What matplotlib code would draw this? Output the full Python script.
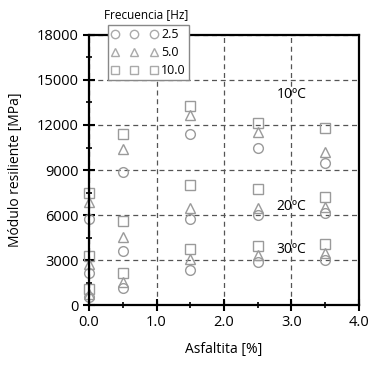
import matplotlib
matplotlib.use('Agg')
import matplotlib.pyplot as plt
from matplotlib.ticker import MultipleLocator

plt.rcParams['font.family'] = ['Open Sans', 'DejaVu Sans']

# asphaltite content [%]
asfaltita = [0.0, 0.5, 1.5, 2.5, 3.5]

# modulus [MPa] per temperature and frequency
f25_10 = [5710, 8890, 11400, 10440, 9490]
f50_10 = [6890, 10400, 12670, 11560, 10220]
f100_10 = [7490, 11380, 13270, 12110, 11780]

f25_20 = [2110, 3620, 5710, 6000, 6160]
f50_20 = [2730, 4560, 6440, 6440, 6510]
f100_20 = [3290, 5620, 8000, 7710, 7220]

f25_30 = [510, 1110, 2330, 2840, 3000]
f50_30 = [750, 1560, 3050, 3330, 3490]
f100_30 = [1070, 2160, 3730, 3960, 4070]

temp_labels = ['10ºC', '20ºC', '30ºC']
temp_pos = [(2.78, 14000), (2.78, 6600), (2.78, 3700)]

gray = '#9a9a9a'
fig = plt.figure(figsize=(3.79, 3.68), dpi=100)
ax = fig.add_axes([0.235, 0.171, 0.712, 0.734])

style = dict(linestyle='none', markerfacecolor='none', markeredgecolor=gray,
             markersize=7, markeredgewidth=1.0, clip_on=False)
for ys in (f25_10, f25_20, f25_30):
    ax.plot(asfaltita, ys, marker='o', **style)
for ys in (f50_10, f50_20, f50_30):
    ax.plot(asfaltita, ys, marker='^', **style)
for ys in (f100_10, f100_20, f100_30):
    ax.plot(asfaltita, ys, marker='s', **style)

lstyle = dict(style, markersize=6, markeredgecolor='#aaaaaa')
h1, = ax.plot([], [], marker='o', **lstyle)
h2, = ax.plot([], [], marker='^', **lstyle)
h3, = ax.plot([], [], marker='s', **lstyle)
leg = fig.legend([h1, h2, h3], ['2.5', '5.0', '10.0'], numpoints=3,
                 loc='upper left', bbox_to_anchor=(0.285, 0.932), frameon=True,
                 fancybox=False, edgecolor='#888888', handlelength=3.7,
                 handletextpad=0.3, borderpad=0.25, labelspacing=0.4,
                 fontsize=9, borderaxespad=0, framealpha=1)
leg.get_frame().set_linewidth(1.0)
fig.text(0.385, 0.96, 'Frecuencia [Hz]', fontsize=8.5, ha='center', va='center')

for t, (x, y) in zip(temp_labels, temp_pos):
    ax.text(x, y, t, fontsize=10, ha='left', va='center')

ax.set_xlim(0, 4)
ax.set_ylim(0, 18000)
ax.xaxis.set_major_locator(MultipleLocator(1))
ax.xaxis.set_minor_locator(MultipleLocator(0.5))
ax.yaxis.set_major_locator(MultipleLocator(3000))
ax.yaxis.set_minor_locator(MultipleLocator(1500))
ax.set_xticklabels([f'{v:.1f}' for v in ax.get_xticks()])
ax.tick_params(which='major', direction='inout', length=8, width=1.5, labelsize=10.5)
ax.tick_params(which='minor', direction='inout', length=5, width=1.2)
ax.tick_params(top=False, right=False)
ax.grid(True, which='major', linestyle=(0, (4, 3)), color='#555555', linewidth=0.9)
for s in ax.spines.values():
    s.set_linewidth(1.6)

ax.set_xlabel('Asfaltita [%]', fontsize=10, labelpad=8)
ax.set_ylabel('Módulo resiliente [MPa]', fontsize=10, labelpad=10)

fig.savefig('out.png', dpi=100)
